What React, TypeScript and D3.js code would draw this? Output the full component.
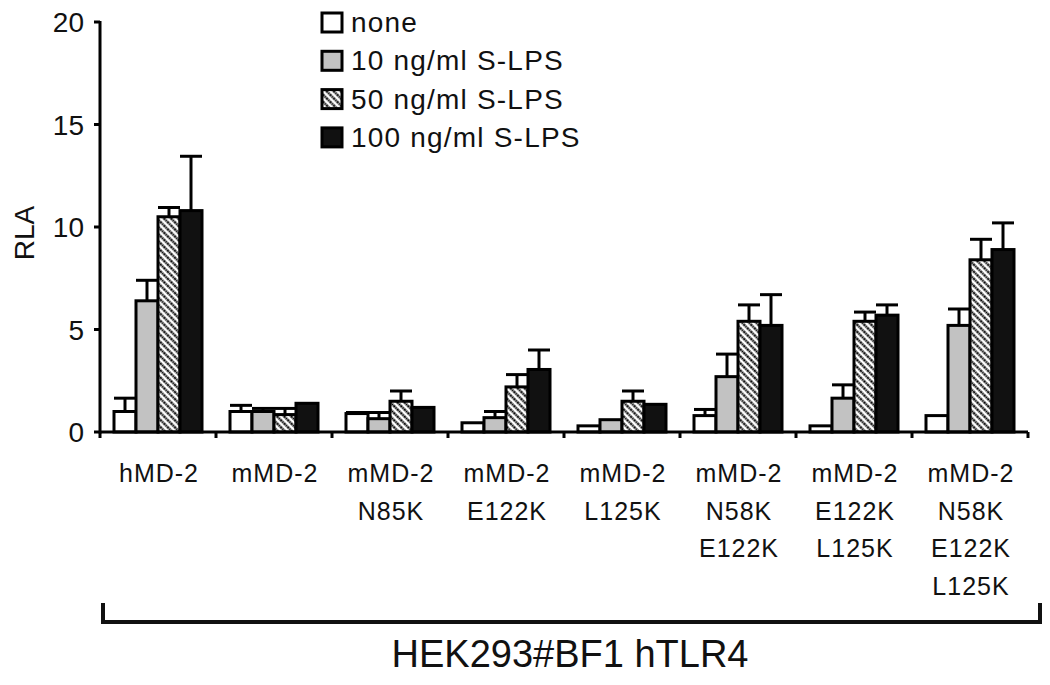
import React from "react";
import * as d3 from "d3";

const groups = [
  ["hMD-2"],
  ["mMD-2"],
  ["mMD-2", "N85K"],
  ["mMD-2", "E122K"],
  ["mMD-2", "L125K"],
  ["mMD-2", "N58K", "E122K"],
  ["mMD-2", "E122K", "L125K"],
  ["mMD-2", "N58K", "E122K", "L125K"],
];
const seriesNames = ["none", "10 ng/ml S-LPS", "50 ng/ml S-LPS", "100 ng/ml S-LPS"];
const noneVals = [1.0, 1.0, 0.9, 0.45, 0.3, 0.8, 0.3, 0.8];
const noneErr = [0.65, 0.3, 0.05, 0, 0, 0.3, 0, 0];
const tenVals = [6.4, 1.0, 0.65, 0.7, 0.6, 2.7, 1.65, 5.2];
const tenErr = [1.0, 0.15, 0.3, 0.3, 0, 1.1, 0.65, 0.8];
const fiftyVals = [10.5, 0.85, 1.5, 2.2, 1.5, 5.4, 5.4, 8.4];
const fiftyErr = [0.45, 0.3, 0.5, 0.6, 0.5, 0.8, 0.45, 1.0];
const hundredVals = [10.8, 1.4, 1.2, 3.05, 1.35, 5.2, 5.7, 8.9];
const hundredErr = [2.65, 0, 0, 0.95, 0, 1.5, 0.5, 1.3];
const yTicks = [0, 5, 10, 15, 20];
const bracketTitle = "HEK293#BF1 hTLR4";
const yTitle = "RLA";

const values = [noneVals, tenVals, fiftyVals, hundredVals];
const errors = [noneErr, tenErr, fiftyErr, hundredErr];
const fills = ["#ffffff", "#c2c2c2", "url(#hatch)", "#111111"];

const FONT = "'Liberation Sans', Arial, Helvetica, sans-serif";

export default function App() {
  const x0 = 100, x1 = 1028, yBase = 432, yTop = 22;
  const y = d3.scaleLinear().domain([0, 20]).range([yBase, yTop]);
  const xg = d3.scaleBand<number>().domain(d3.range(groups.length)).range([x0, x1]).padding(0);
  const gw = xg.bandwidth();
  const xs = d3.scaleBand<number>().domain(d3.range(4)).range([14, gw - 14]).padding(0);
  const bw = xs.bandwidth();

  return (
    <svg width={1050} height={685} style={{ position: "absolute", left: 0, top: 0, background: "#fff" }}>
      <defs>
        <pattern id="hatch" patternUnits="userSpaceOnUse" width={5} height={5} patternTransform="rotate(-45)">
          <rect width={5} height={5} fill="#fff" />
          <line x1={1.5} x2={1.5} y1={0} y2={5} stroke="#000" strokeWidth={2.2} strokeDasharray="2,0.5" />
        </pattern>
      </defs>
      {groups.map((g, gi) =>
        values.map((vals, si) => {
          const bx = (xg(gi) as number) + (xs(si) as number);
          const v = vals[gi];
          const e = errors[si][gi];
          const top = y(v);
          return (
            <g key={`${gi}-${si}`}>
              {e > 0 && (
                <g stroke="#000" strokeWidth={3}>
                  <line x1={bx + bw / 2} x2={bx + bw / 2} y1={top} y2={y(v + e)} />
                  <line x1={bx} x2={bx + bw} y1={y(v + e)} y2={y(v + e)} />
                </g>
              )}
              <rect x={bx} y={top} width={bw} height={yBase - top} fill={fills[si]} stroke="#000" strokeWidth={3} />
            </g>
          );
        })
      )}
      <line x1={x0} x2={x0} y1={yTop - 1} y2={yBase + 1.5} stroke="#000" strokeWidth={3} />
      {yTicks.map((t) => (
        <g key={t}>
          <line x1={x0 - 6} x2={x0} y1={y(t)} y2={y(t)} stroke="#000" strokeWidth={3} />
          <text x={84} y={y(t)} dy="0.36em" textAnchor="end" fontFamily={FONT} fontSize={28} fill="#111">
            {t}
          </text>
        </g>
      ))}
      <text transform={`translate(34,233) rotate(-90)`} textAnchor="middle" fontFamily={FONT} fontSize={28} fill="#111">
        {yTitle}
      </text>
      <line x1={x0} x2={x1} y1={yBase} y2={yBase} stroke="#000" strokeWidth={3} />
      {d3.range(groups.length + 1).map((i) => {
        const tx = i < groups.length ? (xg(i) as number) : x1;
        return <line key={i} x1={tx} x2={tx} y1={yBase} y2={yBase + 6} stroke="#000" strokeWidth={3} />;
      })}
      {groups.map((lines, gi) => (
        <text key={gi} textAnchor="middle" fontFamily={FONT} fontSize={25} letterSpacing={1} fill="#111">
          {lines.map((l, li) => (
            <tspan key={li} x={(xg(gi) as number) + gw / 2 + 1} y={482 + li * 37.7}>
              {l}
            </tspan>
          ))}
        </text>
      ))}
      <path d="M103,603 L103,622 L1040,622 L1040,603" fill="none" stroke="#111" strokeWidth={4} />
      <text x={570} y={667} textAnchor="middle" fontFamily={FONT} fontSize={38} fill="#111">
        {bracketTitle}
      </text>
      {seriesNames.map((n, i) => (
        <g key={n}>
          <rect x={322} y={13 + i * 38.3} width={20} height={19} fill={fills[i]} stroke="#000" strokeWidth={3} />
          <text x={351} y={32 + i * 38.3} fontFamily={FONT} fontSize={28} letterSpacing={1.2} fill="#111">
            {n}
          </text>
        </g>
      ))}
    </svg>
  );
}
